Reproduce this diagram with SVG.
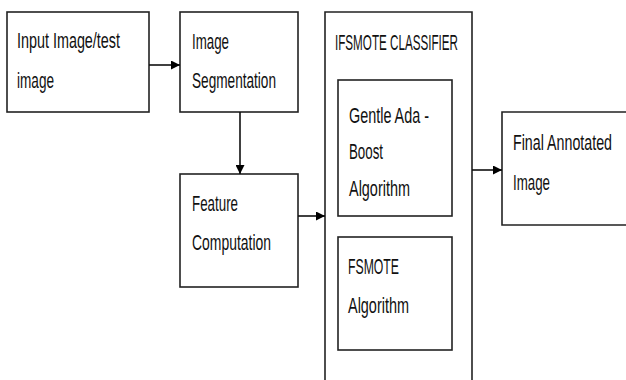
<svg xmlns="http://www.w3.org/2000/svg" width="626" height="380" viewBox="0 0 626 380">
<defs>
<style>
.box{fill:#fff;stroke:#222;stroke-width:1.6}
.open{fill:none;stroke:#222;stroke-width:1.6}
.conn{fill:none;stroke:#111;stroke-width:1.6}
text{font-family:"Liberation Sans",Arial,sans-serif;font-size:22px;fill:#111}
</style>
<marker id="ah" viewBox="0 0 10 10" refX="10" refY="5" markerWidth="9" markerHeight="9" markerUnits="userSpaceOnUse" orient="auto">
<path d="M0,0 L10,5 L0,10 z" fill="#000"/>
</marker>
</defs>
<rect width="626" height="380" fill="#fff"/>
<g id="input">
<rect class="box" x="7" y="12" width="142" height="100"/>
<text x="17" y="48" textLength="103" lengthAdjust="spacingAndGlyphs">Input Image/test</text>
<text x="17" y="88" textLength="37" lengthAdjust="spacingAndGlyphs">image</text>
</g>
<g id="segmentation">
<rect class="box" x="180" y="12" width="118" height="100"/>
<text x="192" y="49" textLength="37" lengthAdjust="spacingAndGlyphs">Image</text>
<text x="192" y="88" textLength="84" lengthAdjust="spacingAndGlyphs">Segmentation</text>
</g>
<g id="feature">
<rect class="box" x="180" y="174" width="118" height="113"/>
<text x="192" y="211" textLength="46" lengthAdjust="spacingAndGlyphs">Feature</text>
<text x="192" y="250" textLength="79" lengthAdjust="spacingAndGlyphs">Computation</text>
</g>
<g id="classifier">
<path class="open" d="M325,381 L325,12 L472,12 L472,381"/>
<text x="335" y="50" textLength="123" lengthAdjust="spacingAndGlyphs">IFSMOTE CLASSIFIER</text>
</g>
<g id="gentle">
<rect class="box" x="338" y="80" width="114" height="136"/>
<text x="349" y="123" textLength="80" lengthAdjust="spacingAndGlyphs">Gentle Ada -</text>
<text x="349" y="159" textLength="34" lengthAdjust="spacingAndGlyphs">Boost</text>
<text x="349" y="196" textLength="61" lengthAdjust="spacingAndGlyphs">Algorithm</text>
</g>
<g id="fsmote">
<rect class="box" x="338" y="237" width="114" height="113"/>
<text x="348" y="274" textLength="51" lengthAdjust="spacingAndGlyphs">FSMOTE</text>
<text x="348" y="313" textLength="61" lengthAdjust="spacingAndGlyphs">Algorithm</text>
</g>
<g id="final">
<path class="open" d="M630,112 L502,112 L502,225 L630,225"/>
<text x="513" y="150" textLength="99" lengthAdjust="spacingAndGlyphs">Final Annotated</text>
<text x="513" y="190" textLength="37" lengthAdjust="spacingAndGlyphs">Image</text>
</g>
<g id="connectors">
<line class="conn" x1="149" y1="65" x2="180" y2="65" marker-end="url(#ah)"/>
<line class="conn" x1="240" y1="112" x2="240" y2="174" marker-end="url(#ah)"/>
<line class="conn" x1="298" y1="216" x2="325" y2="216" marker-end="url(#ah)"/>
<line class="conn" x1="472" y1="170" x2="502" y2="170" marker-end="url(#ah)"/>
</g>
</svg>
